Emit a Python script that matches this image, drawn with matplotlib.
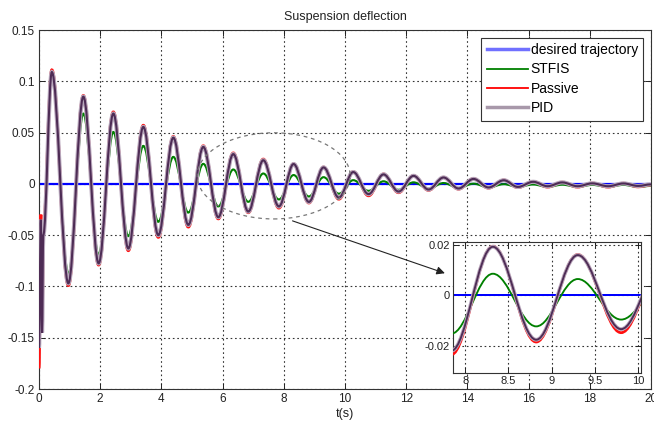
import numpy as np
import matplotlib
matplotlib.use("Agg")
import matplotlib.pyplot as plt
from matplotlib.path import Path
from matplotlib.patches import PathPatch, Ellipse
from matplotlib.lines import Line2D
import matplotlib.patheffects as pe

plt.rcParams['font.family'] = ['Liberation Sans', 'DejaVu Sans']

# extrema (start transient, then alternating peaks / troughs)
t_start = [0.00, 0.06, 0.10, 0.14]
t_peaks = [0.42, 1.45, 2.43, 3.41, 4.39, 5.37, 6.35, 7.33, 8.32, 9.30,
           10.27, 11.26, 12.24, 13.22, 14.20, 15.19, 16.15, 17.10, 18.08, 19.10]
t_troughs = [0.96, 1.95, 2.92, 3.90, 4.88, 5.86, 6.84, 7.84, 8.82, 9.80,
             10.77, 11.75, 12.73, 13.71, 14.69, 15.65, 16.62, 17.60, 18.60, 19.58]
t_end = 20.0

passive_start = [-0.180, -0.030, -0.140, -0.045]
passive_peaks = [0.111, 0.086, 0.070, 0.057, 0.046, 0.037, 0.030, 0.024, 0.0195, 0.0162,
                 0.0118, 0.0095, 0.0080, 0.0063, 0.0050, 0.0036, 0.0022, 0.0015, 0.0006, 0.0005]
passive_troughs = [-0.099, -0.079, -0.065, -0.052, -0.042, -0.034, -0.028, -0.0235, -0.0185, -0.0148,
                   -0.0115, -0.0085, -0.0062, -0.0050, -0.0040, -0.0035, -0.0030, -0.0030, -0.0030, -0.0028]
passive_end = -0.001

pid_start = [-0.160, -0.035, -0.145, -0.050]
pid_peaks = [0.109, 0.085, 0.0685, 0.0555, 0.045, 0.036, 0.029, 0.023, 0.0193, 0.0160,
             0.0115, 0.0092, 0.0078, 0.0062, 0.0048, 0.0035, 0.0020, 0.0014, 0.0005, 0.0004]
pid_troughs = [-0.097, -0.0775, -0.063, -0.050, -0.040, -0.0325, -0.027, -0.022, -0.0176, -0.0134,
               -0.0100, -0.0075, -0.0055, -0.0045, -0.0035, -0.0030, -0.0023, -0.0023, -0.0023, -0.0020]
pid_end = -0.0005

stfis_start = [-0.160, -0.035, -0.140, -0.050]
stfis_peaks = [0.108, 0.0685, 0.0506, 0.037, 0.0263, 0.0195, 0.014, 0.0101, 0.0086, 0.0065,
               0.0036, 0.0025, 0.0015, 0.0008, 0.0002, -0.0003, -0.0006, -0.0008, -0.0010, -0.0010]
stfis_troughs = [-0.088, -0.069, -0.051, -0.037, -0.028, -0.022, -0.0175, -0.0152, -0.0123, -0.0096,
                 -0.0068, -0.0058, -0.0047, -0.0040, -0.0035, -0.0030, -0.0030, -0.0030, -0.0030, -0.0030]
stfis_end = -0.002

desired_t = [0, 20]
desired_y = [0, 0]

xticks = [0, 2, 4, 6, 8, 10, 12, 14, 16, 18, 20]
yticks = [-0.2, -0.15, -0.1, -0.05, 0, 0.05, 0.1, 0.15]
ytick_labels = ['-0.2', '-0.15', '-0.1', '-0.05', '0', '0.05', '0.1', '0.15']
inset_xticks = [8, 8.5, 9, 9.5, 10]
inset_xtick_labels = ['8', '8.5', '9', '9.5', '10']
inset_yticks = [-0.02, 0, 0.02]
inset_ytick_labels = ['-0.02', '0', '0.02']


def knots(start, peaks, troughs, end):
    t = list(t_start)
    y = list(start)
    for tp, yp, tt, yt in zip(t_peaks, peaks, t_troughs, troughs):
        t += [tp, tt]
        y += [yp, yt]
    t.append(t_end)
    y.append(end)
    return t, y


def smooth_path(t, y):
    # cubic segments with flat tangents at every extremum
    verts = [(t[0], y[0])]
    codes = [Path.MOVETO]
    for i in range(len(t) - 1):
        dt = t[i + 1] - t[i]
        verts += [(t[i] + 0.364 * dt, y[i]), (t[i + 1] - 0.364 * dt, y[i + 1]), (t[i + 1], y[i + 1])]
        codes += [Path.CURVE4] * 3
    return Path(verts, codes)


series = {
    'STFIS': knots(stfis_start, stfis_peaks, stfis_troughs, stfis_end),
    'Passive': knots(passive_start, passive_peaks, passive_troughs, passive_end),
    'PID': knots(pid_start, pid_peaks, pid_troughs, pid_end),
}


def draw_curves(ax, lw_scale=1.0):
    ax.plot(desired_t, desired_y, color='#0000ff', lw=1.6 * lw_scale, zorder=2)
    p = smooth_path(*series['STFIS'])
    ax.add_patch(PathPatch(p, facecolor='none', edgecolor='#008000', lw=1.5 * lw_scale, zorder=3))
    p = smooth_path(*series['Passive'])
    ax.add_patch(PathPatch(p, facecolor='none', edgecolor='#ff1010', lw=2.2 * lw_scale, zorder=4))
    p = smooth_path(*series['PID'])
    patch = PathPatch(p, facecolor='none', edgecolor='#4e2c55', lw=1.5 * lw_scale, zorder=5)
    patch.set_path_effects([pe.Stroke(linewidth=3.0 * lw_scale, foreground='#b9a8bd'), pe.Normal()])
    ax.add_patch(patch)


def style_axes(ax, size):
    ax.tick_params(direction='in', length=4, width=0.7, top=True, right=True,
                   labelsize=size, colors='#222222', pad=3)
    for s in ax.spines.values():
        s.set_color('#333333')
        s.set_linewidth(0.8)
    ax.grid(True, color='#333333', linestyle=(0, (1.5, 2.5)), linewidth=0.8)


fig = plt.figure(figsize=(6.54, 4.25), dpi=100)
ax = fig.add_axes([0.0596, 0.0847, 0.9358, 0.8447])
draw_curves(ax)
ax.set_xlim(0, 20)
ax.set_ylim(-0.2, 0.15)
ax.set_xticks(xticks)
ax.set_yticks(yticks)
ax.set_yticklabels(ytick_labels)
style_axes(ax, 8.5)
ax.set_axisbelow(True)
ax.set_title('Suspension deflection', fontsize=9, color='#222222', pad=7)
ax.set_xlabel('t(s)', fontsize=9, color='#222222', labelpad=2)

handles = [Line2D([], [], color='#7070ff', lw=2.5),
           Line2D([], [], color='#008000', lw=1.3),
           Line2D([], [], color='#ff0000', lw=1.3),
           Line2D([], [], color='#a898aa', lw=2.5)]
labels = ['desired trajectory', 'STFIS', 'Passive', 'PID']
leg = ax.legend(handles, labels, loc='upper right', fontsize=10, fancybox=False,
                framealpha=1, edgecolor='#333333', handlelength=3.0, handletextpad=0.15,
                labelspacing=0.38, borderpad=0.4, borderaxespad=0.55)
leg.get_frame().set_linewidth(0.8)
leg.set_zorder(10)

# zoom marker
ax.add_patch(Ellipse((7.67, 0.0078), 5.0, 0.084, facecolor='none', edgecolor='#777777',
                     linestyle=(0, (3, 3)), lw=0.9, zorder=6))
ax.annotate('', xy=(13.35, -0.088), xytext=(8.2, -0.0352),
            arrowprops=dict(arrowstyle='-|>', color='#222222', lw=0.8,
                            mutation_scale=12), zorder=7)

# inset
axi = fig.add_axes([0.6927, 0.1224, 0.2875, 0.3082])
draw_curves(axi, lw_scale=0.9)
axi.set_xlim(7.86, 10.03)
axi.set_ylim(-0.0308, 0.0212)
axi.set_xticks(inset_xticks)
axi.set_xticklabels(inset_xtick_labels)
axi.set_yticks(inset_yticks)
axi.set_yticklabels(inset_ytick_labels)
style_axes(axi, 8)
axi.tick_params(pad=2)
axi.set_facecolor('white')

fig.savefig('out.png', dpi=100)
